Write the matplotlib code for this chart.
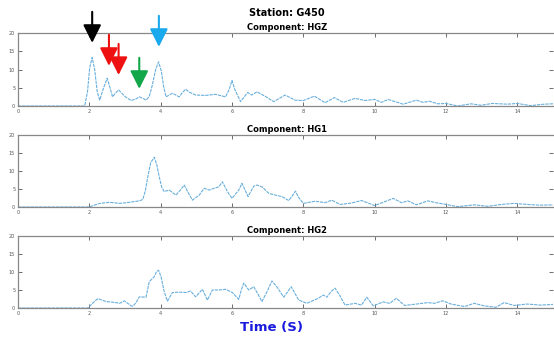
import matplotlib
matplotlib.use("Agg")
import matplotlib.pyplot as plt

# ---- data (time in s, amplitude) ----
hgz_t = [0.0, 1.87, 1.95, 2.01, 2.08, 2.15, 2.22, 2.29, 2.40, 2.50, 2.58, 2.65, 2.74,
         2.82, 2.90, 3.00, 3.17, 3.30, 3.40, 3.50, 3.59, 3.68, 3.76, 3.86, 3.94, 4.02,
         4.08, 4.15, 4.33, 4.52, 4.62, 4.70, 4.80, 4.98, 5.26, 5.54, 5.82, 5.92, 6.00,
         6.08, 6.24, 6.44, 6.55, 6.70, 6.94, 7.17, 7.49, 7.77, 8.00, 8.31, 8.61, 8.87,
         9.12, 9.45, 9.72, 10.00, 10.19, 10.38, 10.47, 10.80, 11.17, 11.35, 11.54,
         11.77, 12.00, 12.33, 12.70, 12.98, 13.30, 13.72, 14.00, 14.37, 14.75, 15.00]
hgz_v = [0.0, 0.0, 4.0, 10.5, 13.3, 10.0, 4.0, 1.6, 5.0, 7.6, 5.0, 2.5, 3.6,
         4.4, 3.6, 2.6, 1.5, 1.9, 2.5, 2.1, 1.6, 2.6, 5.5, 10.0, 12.1, 9.5,
         5.5, 2.5, 3.5, 2.5, 3.8, 4.6, 3.8, 3.0, 2.9, 3.2, 2.5, 4.5, 7.0,
         4.5, 1.2, 3.7, 3.0, 3.9, 2.6, 1.2, 3.0, 1.6, 1.5, 2.7, 0.9, 2.3,
         1.0, 2.1, 1.5, 1.8, 1.0, 1.8, 1.5, 0.5, 1.6, 1.0, 1.3,
         0.6, 0.7, 0.0, 0.6, 0.2, 0.7, 0.5, 0.7, 0.1, 0.5, 0.6]

hg1_t = [0.0, 1.99, 2.29, 2.57, 2.85, 3.12, 3.40, 3.50, 3.57, 3.64, 3.72, 3.82, 3.89,
         3.96, 4.03, 4.10, 4.24, 4.43, 4.56, 4.66, 4.76, 4.89, 5.08, 5.22, 5.36, 5.50,
         5.63, 5.73, 5.87, 6.00, 6.19, 6.28, 6.45, 6.61, 6.70, 6.84, 7.03, 7.22, 7.40,
         7.59, 7.70, 7.78, 7.87, 8.00, 8.33, 8.61, 8.80, 9.03, 9.35, 9.63, 10.00, 10.24,
         10.52, 10.75, 10.93, 11.17, 11.49, 11.72, 12.00, 12.33, 12.79, 13.17, 13.54,
         13.91, 14.28, 14.65, 15.00]
hg1_v = [0.0, 0.0, 1.0, 1.3, 1.0, 1.3, 1.7, 2.1, 4.5, 8.4, 12.3, 13.8, 11.8,
         8.4, 5.5, 4.3, 4.7, 3.3, 4.8, 6.1, 4.2, 1.9, 3.3, 5.2, 4.7, 5.2,
         5.6, 7.0, 4.3, 2.4, 4.7, 6.6, 2.9, 5.8, 6.1, 5.6, 3.8, 3.3, 2.9,
         1.8, 3.2, 4.4, 2.6, 1.0, 1.6, 1.2, 1.9, 0.7, 1.1, 1.8, 0.4, 1.3,
         2.4, 1.2, 1.7, 0.6, 1.7, 1.2, 0.7, 0.1, 0.6, 0.2, 0.7,
         1.0, 0.7, 0.5, 0.6]

hg2_t = [0.0, 1.96, 2.08, 2.19, 2.24, 2.47, 2.75, 2.85, 2.98, 3.17, 3.22, 3.31, 3.40,
         3.59, 3.68, 3.82, 3.88, 3.94, 4.01, 4.10, 4.19, 4.33, 4.52, 4.71, 4.84, 4.98,
         5.17, 5.31, 5.45, 5.63, 5.82, 6.01, 6.19, 6.26, 6.33, 6.47, 6.61, 6.72, 6.84,
         6.98, 7.12, 7.25, 7.45, 7.66, 7.87, 8.10, 8.42, 8.56, 8.66, 8.78, 8.89, 9.02,
         9.17, 9.45, 9.63, 9.78, 9.96, 10.24, 10.42, 10.61, 10.84, 11.17, 11.49, 11.68,
         11.91, 12.14, 12.52, 12.79, 13.07, 13.40, 13.63, 13.91, 14.28, 14.65, 15.00]
hg2_v = [0.0, 0.0, 1.2, 2.2, 2.6, 1.8, 1.5, 1.3, 2.0, 0.6, 0.5, 1.5, 3.1,
         3.0, 7.3, 8.7, 10.0, 10.5, 8.7, 4.5, 1.9, 4.3, 4.4, 4.3, 4.7, 3.1,
         5.2, 2.2, 5.0, 5.0, 5.2, 4.3, 2.4, 5.0, 6.9, 5.0, 5.9, 4.0, 1.8,
         4.5, 7.5, 6.0, 3.0, 5.9, 2.2, 1.3, 2.7, 3.6, 3.0, 4.6, 5.5, 3.5,
         0.8, 1.3, 0.8, 3.0, 0.6, 1.7, 1.3, 2.7, 0.7, 1.1, 1.5, 1.3,
         2.0, 1.1, 0.4, 1.3, 0.6, 0.2, 1.5, 0.7, 1.1, 0.8, 1.0]

components = ["HGZ", "HG1", "HG2"]
series_t = [hgz_t, hg1_t, hg2_t]
series_v = [hgz_v, hg1_v, hg2_v]

xticks = [0, 2, 4, 6, 8, 10, 12, 14]
yticks = [0, 5, 10, 15, 20]

# arrows on the HGZ panel: (time, tip amplitude, tail amplitude, colour)
arrow_t = [2.08, 2.55, 2.82, 3.40, 3.95]
arrow_tip = [17.3, 11.0, 8.5, 4.7, 16.2]
arrow_tail = [25.8, 19.5, 17.0, 13.2, 24.7]
arrow_col = ["#000000", "#ee1111", "#ee1111", "#12a84a", "#1ba9ee"]

W, H = 554, 338
fig = plt.figure(figsize=(W / 100, H / 100), dpi=100)
fig.patch.set_facecolor("white")

left = 18 / W
width = (553 - 18) / W
panels_px = [(33, 106), (135, 207), (236, 308)]

line_col = "#6aafdc"
for i, (top, bot) in enumerate(panels_px):
    ax = fig.add_axes([left, 1 - bot / H, width, (bot - top) / H])
    ax.plot(series_t[i], series_v[i], color=line_col, lw=0.8,
            linestyle=(0, (3, 0.8)), solid_joinstyle="round")
    ax.set_xlim(0, 15)
    ax.set_ylim(0, 20)
    ax.set_xticks(xticks)
    ax.set_yticks(yticks)
    ax.tick_params(axis="both", direction="in", length=3, width=0.6,
                   labelsize=3.5, colors="#555555", top=True, right=True, pad=2)
    for s in ["top", "left", "bottom"]:
        ax.spines[s].set_color("#888888")
        ax.spines[s].set_linewidth(0.9)
    ax.spines["right"].set_visible(False)
    ax.set_title("Component: " + components[i], fontsize=6, fontweight="bold",
                 pad=2, x=0.503)
    if i == 0:
        for t, tip, tail, c in zip(arrow_t, arrow_tip, arrow_tail, arrow_col):
            ax.annotate("", xy=(t, tip), xytext=(t, tail),
                        xycoords="data", textcoords="data",
                        annotation_clip=False,
                        arrowprops=dict(arrowstyle="-|>,head_length=1.1,head_width=0.55",
                                        mutation_scale=10, color=c, lw=1.5,
                                        shrinkA=0, shrinkB=0))

fig.text(287 / W, 1 - 13 / H, "Station: G450", ha="center", va="center",
         fontsize=7, fontweight="bold")
fig.text(272 / W, 1 - 327 / H, "Time (S)", ha="center", va="center",
         fontsize=9.5, fontweight="bold", color="#1a1adf")

fig.savefig("out.png", dpi=100)
